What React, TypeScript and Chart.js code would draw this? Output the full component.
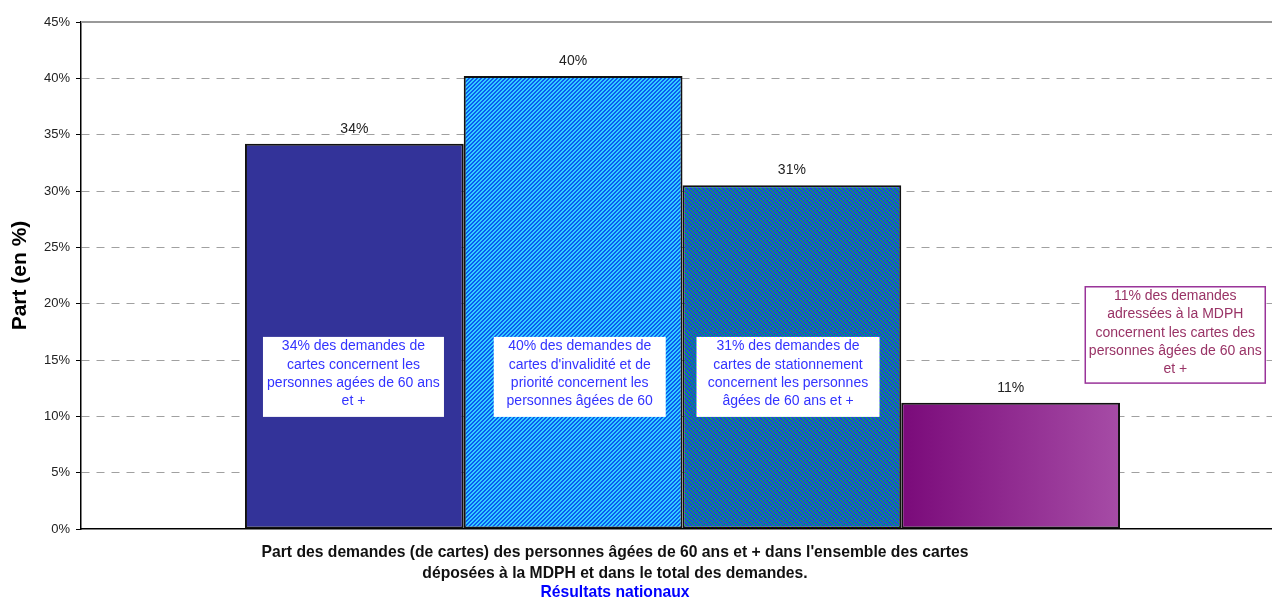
import { useEffect, useRef } from 'react';
import { Chart, registerables } from 'chart.js';
Chart.register(...registerables);

// ---- data ----
const categories = [''];
const seriesNames = [
  'Cartes',
  "Cartes d'invalidité et de priorité",
  'Cartes de stationnement',
  'Demandes adressées à la MDPH',
];
const seriesValues = [34.2, 40.2, 30.5, 11.2];
const valueLabels = ['34%', '40%', '31%', '11%'];
const yTickValues = [0, 5, 10, 15, 20, 25, 30, 35, 40, 45];
const noteTexts = [
  ['34% des demandes de', 'cartes concernent les', 'personnes agées de 60 ans', 'et +'],
  ['40% des demandes de', "cartes d'invalidité et de", 'priorité concernent les', 'personnes âgées de 60'],
  ['31% des demandes de', 'cartes de stationnement', 'concernent les personnes', 'âgées de 60 ans et +'],
  ['11% des demandes', 'adressées à la MDPH', 'concernent les cartes des', 'personnes âgées de 60 ans', 'et +'],
];
const titleLines = [
  "Part des demandes (de cartes) des personnes âgées de 60 ans et + dans l'ensemble des cartes",
  'déposées à la MDPH et dans le total des demandes.',
];
const subtitleText = 'Résultats nationaux';
const yAxisTitle = 'Part (en %)';

// ---- layout / style ----
const FONT = '"Liberation Sans", Arial, Helvetica, sans-serif';
const CAT_PCT = 0.7274;
const noteLayout = [
  { dx: 18, w: 181, top: 17.05, bottom: 9.95, border: null, color: '#3333ff' },
  { dx: 30, w: 172, top: 17.05, bottom: 9.95, border: null, color: '#3333ff' },
  { dx: 14, w: 183, top: 17.05, bottom: 9.95, border: null, color: '#3333ff' },
  { dx: 184, w: 180, top: 21.5, bottom: 12.95, border: '#993399', color: '#993366' },
];

function stripePattern(c1: string, c2: string, forward: boolean) {
  const cv = document.createElement('canvas');
  cv.width = 4;
  cv.height = 4;
  const g = cv.getContext('2d')!;
  g.fillStyle = c1;
  g.fillRect(0, 0, 4, 4);
  g.fillStyle = c2;
  for (let x = 0; x < 4; x++) {
    for (let y = 0; y < 4; y++) {
      const k = forward ? (x + y) % 4 : (((x - y) % 4) + 4) % 4;
      if (k < 2) g.fillRect(x, y, 1, 1);
    }
  }
  return g.createPattern(cv, 'repeat')!;
}

export default function App() {
  const ref = useRef<HTMLCanvasElement>(null);
  useEffect(() => {
    const canvas = ref.current!;
    const ctx0 = canvas.getContext('2d')!;
    const pat2 = stripePattern('#0a5cf0', '#33ccff', true);
    const pat3 = stripePattern('#2238ee', '#119966', false);

    const gradientFill = (c: any) => {
      const chart = c.chart;
      const area = chart.chartArea;
      if (!area || !chart.scales.x) return '#8e2f8e';
      const cx = chart.scales.x.getPixelForValue(0);
      const full = (area.right - area.left) * CAT_PCT;
      const w = full / 4;
      const left = cx - full / 2 + 3 * w;
      const g = ctx0.createLinearGradient(left, 0, left + w, 0);
      g.addColorStop(0, '#7a0a7a');
      g.addColorStop(1, '#a64ca6');
      return g;
    };

    const fills: any[] = ['#333399', pat2, pat3, gradientFill];

    const overlay = {
      id: 'overlay',
      beforeDatasetsDraw(chart: any) {
        const { ctx, chartArea } = chart;
        ctx.save();
        ctx.strokeStyle = '#999999';
        ctx.lineWidth = 2;
        ctx.beginPath();
        ctx.moveTo(chartArea.left, chartArea.top);
        ctx.lineTo(chartArea.right, chartArea.top);
        ctx.stroke();
        ctx.restore();
      },
      afterDatasetsDraw(chart: any) {
        const { ctx } = chart;
        const ys = chart.scales.y;
        ctx.save();
        // value labels
        ctx.font = `14px ${FONT}`;
        ctx.fillStyle = '#222';
        ctx.textAlign = 'center';
        ctx.textBaseline = 'middle';
        seriesValues.forEach((_, i) => {
          const el = chart.getDatasetMeta(i).data[0];
          ctx.fillText(valueLabels[i], el.x, el.y - 15);
        });
        // notes
        noteTexts.forEach((lines, i) => {
          const el = chart.getDatasetMeta(i).data[0];
          const L = noteLayout[i];
          const left = el.x - el.width / 2 + L.dx;
          const top = ys.getPixelForValue(L.top);
          const bottom = ys.getPixelForValue(L.bottom);
          ctx.save();
          ctx.fillStyle = '#ffffff';
          ctx.fillRect(left, top, L.w, bottom - top);
          if (L.border) {
            ctx.strokeStyle = L.border;
            ctx.lineWidth = 1.5;
            ctx.strokeRect(left, top, L.w, bottom - top);
          }
          ctx.beginPath();
          ctx.rect(left, top, L.w, bottom - top);
          ctx.clip();
          ctx.font = `14px ${FONT}`;
          ctx.fillStyle = L.color;
          ctx.textAlign = 'center';
          ctx.textBaseline = 'middle';
          lines.forEach((t, j) => {
            ctx.fillText(t, left + L.w / 2, top + 9.5 + j * 18.3);
          });
          ctx.restore();
        });
        ctx.restore();
      },
      afterDraw(chart: any) {
        const { ctx } = chart;
        ctx.save();
        ctx.textAlign = 'center';
        ctx.textBaseline = 'middle';
        ctx.font = `bold 15.7px ${FONT}`;
        ctx.fillStyle = '#111';
        ctx.fillText(titleLines[0], 615, 553);
        ctx.fillText(titleLines[1], 615, 574);
        ctx.fillStyle = '#0000ff';
        ctx.fillText(subtitleText, 615, 593);
        ctx.restore();
      },
    };

    const chart = new Chart(canvas, {
      type: 'bar',
      data: {
        labels: categories,
        datasets: seriesNames.map((name, i) => ({
          label: name,
          data: [seriesValues[i]],
          backgroundColor: fills[i],
          borderColor: '#111111',
          borderWidth: 2,
          borderSkipped: false,
          categoryPercentage: CAT_PCT,
          barPercentage: 1,
        })),
      },
      options: {
        animation: false,
        responsive: false,
        layout: { padding: { left: 0, right: 6, top: 22, bottom: 72 } },
        plugins: {
          legend: { display: false },
          tooltip: { enabled: false },
          title: { display: false },
        },
        scales: {
          x: {
            type: 'category',
            grid: { display: false, drawTicks: false },
            ticks: { display: false },
            border: { display: true, color: '#000000', width: 1.5 },
            afterFit: (s: any) => {
              s.height = 0;
            },
          },
          y: {
            min: 0,
            max: 45,
            afterBuildTicks: (s: any) => {
              s.ticks = yTickValues.map((v) => ({ value: v }));
            },
            ticks: {
              callback: (v: any) => `${v}%`,
              font: { family: FONT, size: 13 },
              color: '#222',
              padding: 6,
            },
            grid: {
              color: (c: any) =>
                c.tick && (c.tick.value === 45 || c.tick.value === 0) ? 'rgba(0,0,0,0)' : '#a0a0a0',
              lineWidth: 1,
              tickColor: '#000000',
              tickLength: 5,
            },
            border: { display: true, color: '#000000', width: 1.5, dash: [8, 7] },
            title: {
              display: true,
              text: yAxisTitle,
              font: { family: FONT, size: 21, weight: 'bold' },
              color: '#000',
              padding: { top: 8, bottom: 0 },
            },
            afterFit: (s: any) => {
              s.width = 81;
            },
          },
        },
      },
      plugins: [overlay],
    });
    return () => chart.destroy();
  }, []);
  return (
    <div style={{ position: 'fixed', left: 0, top: 0, width: 1272, height: 601, overflow: 'hidden', background: '#fff' }}>
      <canvas ref={ref} width={1290} height={601} style={{ width: 1290, height: 601, display: 'block' }} />
    </div>
  );
}
